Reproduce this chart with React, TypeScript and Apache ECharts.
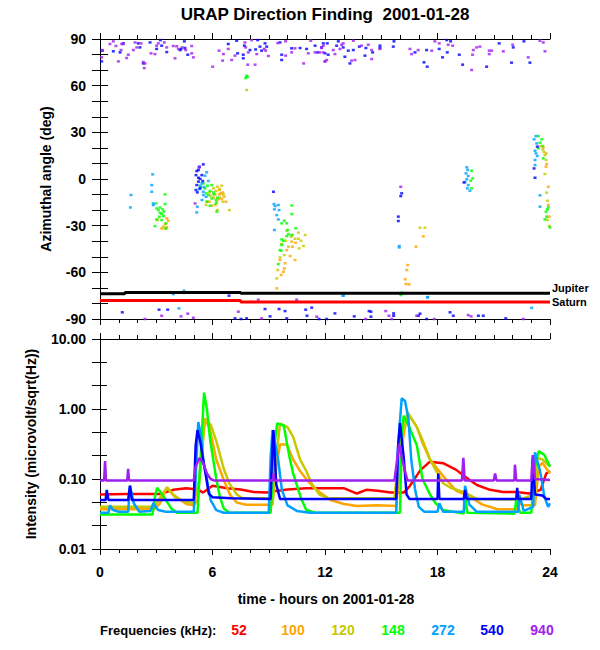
import React, { useEffect, useRef } from "react";
import * as echarts from "echarts";

const FONT = '"Liberation Sans", Arial, Helvetica, sans-serif';
const BOLD = "bold";

// ---------- frequencies ----------
const freqLabels = ["52", "100", "120", "148", "272", "540", "940"];
const freqColors = ["#ff0000", "#ffa500", "#c8c800", "#00ff00", "#00a0ff", "#0000ff", "#a020f0"];
const hourTicks = [0, 6, 12, 18, 24];

// ---------- top panel: direction finding points [hour, azimuth deg] ----------
const dir940: [number, number][] = [
  [0.12, 82.9], [0.09, 78.2], [0.53, 86.8], [0.71, 88.5], [0.85, 85.5], [1.16, 86.8], [1.24, 86.8], [1.12, 82.9],
  [1.51, 79.9], [1.87, 87.8], [1.96, 84.6], [2.19, 87.2], [1.78, 82.9], [1.42, 77.8], [0.98, 75.6], [2.31, 75.2],
  [2.4, 74.3], [2.36, 71.3], [2.72, 80.8], [2.93, 80.3], [3.02, 85.7], [3.11, 87.2], [3.43, 87.8], [3.56, 84.6],
  [3.91, 85.5], [4.09, 85.3], [4.18, 83.6], [4.39, 84.6], [4.57, 82.9], [4.89, 85.5], [4.89, 80.8], [4.98, 78.2],
  [4.0, 77.6], [6.01, 72.2], [6.35, 82.5], [6.58, 80.3], [6.54, 76.1], [6.84, 83.6], [7.02, 76.5], [7.2, 79.3],
  [7.73, 87.8], [7.77, 84.6], [7.91, 81.4], [8.09, 89.3], [8.36, 80.3], [8.27, 73.5], [7.88, 73.5], [8.98, 79.1],
  [9.48, 87.4], [9.9, 88.5], [9.9, 79.3], [10.22, 81.4], [10.4, 84.0], [10.86, 74.3], [11.24, 88.9], [11.47, 81.4],
  [11.73, 81.4], [11.91, 85.7], [12.0, 75.6], [11.11, 80.8], [8.76, 83.6], [8.84, 82.5],
  [11.82, 84.2], [11.91, 81.4], [12.0, 75.6], [12.09, 76.5], [12.44, 82.9], [12.53, 80.3], [12.8, 83.6], [12.89, 86.3],
  [12.97, 87.2], [13.51, 88.9], [13.42, 76.1], [13.6, 76.5], [13.95, 85.7], [14.31, 86.3], [14.49, 82.9], [14.49, 77.1],
  [14.93, 83.6], [16.53, 83.6], [16.62, 80.3], [16.97, 82.9], [17.69, 82.5], [17.86, 88.5], [18.09, 87.2], [18.57, 86.3],
  [18.81, 85.7], [19.87, 79.9], [19.91, 82.9], [20.09, 84.6], [20.26, 85.1], [20.76, 82.5], [20.89, 82.5], [20.76, 80.3],
  [21.51, 82.1], [22.01, 86.3], [22.84, 78.2], [23.46, 88.9], [23.64, 87.8], [23.73, 82.1], [19.82, 70.1],
  [5.28, 7.3], [5.07, -15.7], [16.04, -5.0],
  [2.4, -90.0], [3.29, -87.9], [4.32, -88.3], [4.68, -86.6], [4.98, -89.2], [7.38, -85.3], [8.44, -77.6], [8.62, -89.6],
  [10.49, -77.6], [11.56, -88.5], [14.17, -90.0], [15.24, -84.9], [15.41, -87.9], [15.56, -90.0], [16.89, -87.9],
  [17.83, -90.0], [19.64, -87.5], [19.79, -88.3], [22.58, -90.0],
];

const dir540: [number, number][] = [
  [0.12, 82.5], [0.09, 75.6], [0.71, 82.1], [1.07, 81.4], [1.24, 87.2], [2.04, 87.2], [2.13, 84.6], [2.31, 74.3],
  [2.67, 87.8], [3.02, 83.6], [3.22, 89.3], [3.29, 85.7], [3.56, 81.6], [4.27, 82.9], [4.32, 83.6], [4.53, 84.2],
  [4.5, 88.5], [4.68, 79.9], [6.84, 86.8], [7.29, 88.9], [7.34, 80.8], [7.64, 79.9], [7.64, 77.6], [7.7, 85.7],
  [8.0, 82.9], [8.41, 89.3], [8.3, 83.3], [8.53, 85.1], [8.62, 82.5], [8.8, 87.2], [8.89, 85.1], [9.6, 87.8],
  [9.69, 79.9], [9.69, 76.5], [10.22, 84.0], [10.67, 84.2], [11.02, 83.6], [11.47, 85.7], [11.61, 81.4], [11.82, 84.6],
  [11.91, 87.2], [12.12, 87.2], [12.0, 80.8], [12.17, 79.9], [12.62, 85.7], [12.71, 88.5], [12.97, 84.6], [13.06, 78.6],
  [13.24, 82.5], [13.33, 74.3], [13.51, 82.9], [13.83, 85.1], [14.13, 79.3], [14.18, 84.2], [14.54, 81.4], [14.93, 85.7],
  [14.93, 84.2], [15.64, 85.1], [15.68, 88.5], [16.8, 81.4], [17.42, 82.9], [17.28, 75.0], [17.45, 72.2], [18.09, 83.6],
  [18.27, 78.2], [18.49, 89.3], [18.52, 81.4], [18.7, 88.5], [19.16, 79.9], [19.34, 73.5], [20.62, 72.2], [21.29, 87.2],
  [21.95, 74.8], [22.04, 84.6], [22.61, 88.5], [22.93, 74.8],
  [5.51, 9.4], [5.3, 7.9], [5.16, 5.1], [5.25, 5.8], [5.12, 2.5], [5.25, 0.8], [5.34, 0.0], [5.25, -1.7], [5.16, -3.9],
  [5.12, -7.1], [5.19, -8.6], [5.34, -6.0], [5.48, -1.3], [5.43, 2.5], [9.25, -8.2],
  [16.09, -9.2], [16.04, -11.0], [15.91, -24.2], [15.91, -27.0], [19.41, -2.2], [23.15, 6.8], [23.2, 0.8], [23.32, 20.8],
  [1.19, -85.7], [3.15, -84.0], [3.61, -84.0], [6.88, -75.0], [7.2, -89.6], [7.52, -90.0], [7.82, -89.6], [8.8, -83.6],
  [9.07, -88.3], [9.55, -83.6], [9.87, -84.9], [9.96, -89.6], [10.97, -84.0], [11.04, -87.9], [11.29, -82.7], [11.68, -90.0],
  [12.09, -90.0], [12.53, -86.4], [13.56, -88.3], [14.35, -84.9], [14.45, -88.5], [14.45, -85.3], [15.66, -86.4],
  [15.66, -87.9], [17.07, -86.6], [16.98, -87.9], [17.42, -90.0], [18.67, -85.7], [18.84, -87.9], [20.18, -87.9],
  [20.44, -87.9], [21.64, -89.6],
];

const dir272: [number, number][] = [
  [1.65, -10.3], [1.62, -18.3], [2.81, 3.0], [2.76, -3.9], [2.76, -8.2], [2.84, -15.7], [2.84, -16.8],
  [5.69, 4.3], [5.6, 2.1], [5.43, -2.8], [5.34, -4.3], [5.3, -6.5], [5.55, -5.2], [5.51, -10.3], [5.66, -11.4],
  [5.44, -13.5], [5.19, -17.8], [5.16, -21.5], [5.78, -1.3], [5.51, -8.2],
  [9.28, -16.1], [9.51, -16.7], [9.34, -17.4], [9.3, -19.5], [9.55, -20.0], [9.43, -23.2], [9.51, -26.0], [9.3, -32.8],
  [15.96, -43.1], [15.96, -44.0], [17.46, -76.1],
  [19.56, 7.5], [19.61, 5.8], [19.52, 3.6], [19.64, 1.9], [19.56, -0.2], [19.47, -2.0], [19.64, -3.9], [19.59, -6.0], [19.73, -7.5],
  [23.25, 27.6], [23.15, 25.5], [23.29, 22.9], [23.2, 18.2], [23.25, 16.5], [23.32, 14.8], [23.2, 12.2], [23.2, 9.0],
  [23.47, -10.5], [23.47, -17.8],
  [4.21, -83.2], [12.98, -75.0], [17.48, -75.9], [23.02, -82.8], [3.91, -74.0], [4.48, -71.8], [12.96, -75.0],
];

const dir148: [number, number][] = [
  [2.99, -15.7], [3.47, -16.1], [3.47, -9.9], [3.02, -18.9], [3.11, -20.0], [3.2, -21.7], [3.29, -22.5], [3.41, -21.0],
  [3.38, -23.8], [3.16, -24.3], [3.02, -26.0], [2.93, -30.3], [3.29, -26.4], [3.52, -28.5], [3.2, -18.3], [3.34, -19.5], [3.52, -31.8],
  [5.51, -2.8], [5.37, -5.0], [5.6, -6.0], [5.73, -4.3], [5.96, -3.9], [5.87, -7.7], [5.66, -9.2], [5.78, -10.3],
  [6.05, -8.6], [5.96, -12.5], [6.19, -13.5], [6.26, -12.0], [5.69, -14.6], [5.87, -17.2], [6.19, -15.7], [6.23, -21.0], [6.08, -9.9],
  [7.82, 66.4], [7.77, 64.9], [7.86, 65.6],
  [10.23, -17.0], [10.23, -22.5], [9.96, -28.5], [9.69, -28.5], [9.83, -26.8], [10.44, -31.7], [10.01, -32.8], [10.05, -35.4],
  [10.23, -36.0], [9.96, -36.7], [9.69, -38.8], [9.78, -39.7], [9.69, -42.4], [9.66, -46.1], [9.51, -54.7], [9.6, -45.7],
  [16.09, -73.1], [16.05, -74.6],
  [19.82, 5.3], [19.88, 0.4], [19.77, -1.1], [19.82, -6.0],
  [23.38, 27.6], [23.56, 25.5], [23.47, 23.3], [23.61, 21.2], [23.38, 19.7], [23.64, 13.3], [23.91, -18.2], [23.79, -21.0],
  [23.82, -24.2], [23.73, -26.0], [24.0, -31.1], [23.86, -19.5],
];

const dir120: [number, number][] = [
  [3.06, -26.4], [3.38, -30.7],
  [5.83, -8.6], [6.05, -6.0], [6.26, -5.0], [6.49, -4.3], [6.37, -7.1], [6.58, -9.9], [6.55, -14.6], [6.9, -20.0],
  [6.26, -20.0], [5.73, -14.6], [5.9, -10.7], [6.4, -12.0], [6.14, -16.7], [5.66, -16.7], [7.82, 57.2],
  [9.96, -33.2], [10.58, -34.5], [10.94, -36.0], [10.4, -38.4], [10.58, -38.4], [10.72, -39.7], [9.91, -39.7], [9.69, -41.8],
  [10.85, -43.1], [10.62, -44.6], [10.05, -43.5], [9.83, -48.9], [9.6, -50.4], [9.48, -58.5], [9.43, -63.9], [10.19, -37.1], [10.26, -36.0],
  [17.07, -31.3], [17.33, -31.3],
  [23.47, 21.2], [23.61, 19.0], [23.68, 17.5], [23.73, 15.4], [23.79, 12.2], [23.73, 3.2], [23.82, -8.8], [23.86, -14.0],
  [23.86, -26.4], [23.96, -30.2],
];

const dir100: [number, number][] = [
  [3.56, -25.3], [3.64, -26.8], [3.47, -29.0], [3.29, -31.8], [3.47, -32.0], [3.56, -31.1],
  [6.19, -7.7], [6.37, -6.5], [6.44, -9.2], [6.55, -8.6], [6.62, -11.4], [6.31, -12.9], [6.49, -12.9], [6.72, -14.6],
  [6.37, -9.9], [6.05, -12.0], [5.83, -14.6], [5.96, -17.2], [6.23, -14.6], [6.14, -9.9],
  [10.23, -40.3], [10.44, -41.0], [10.26, -43.5], [9.96, -45.7], [10.14, -49.5], [10.4, -52.1], [9.6, -52.1], [9.87, -54.2],
  [9.78, -59.6], [9.66, -61.7], [9.43, -70.3], [9.83, -57.5],
  [17.24, -36.9], [16.85, -43.5], [16.41, -55.3], [16.36, -58.5], [16.28, -64.5], [16.32, -67.5], [16.48, -67.7],
  [23.64, 20.3], [23.79, 16.5], [23.82, 9.6], [23.79, 7.9], [23.91, -5.0], [23.91, -16.7], [23.96, -24.2],
];

const jupiterHours = [0, 1.33, 1.33, 7.5, 7.5, 24];
const jupiterAngles = [-73.7, -73.7, -72.9, -72.9, -73.5, -73.5];
const saturnHours = [0, 7.5, 7.5, 24];
const saturnAngles = [-78.1, -78.1, -79.0, -79.0];

// ---------- bottom panel: intensity [hour, microvolt/sqrt(Hz)] ----------
const int52: [number, number][] = [
  [0, 0.06], [1.4, 0.061], [3.2, 0.061], [3.9, 0.07], [4.6, 0.074], [5.2, 0.071], [5.5, 0.064], [6.0, 0.08],
  [6.8, 0.074], [7.5, 0.071], [8.2, 0.065], [8.9, 0.064], [9.25, 0.067], [10.0, 0.071], [11.0, 0.074], [12.0, 0.074],
  [13.0, 0.074], [13.7, 0.062], [14.2, 0.07], [14.8, 0.068], [15.5, 0.064], [16.2, 0.064], [16.5, 0.078], [17.1, 0.135],
  [17.6, 0.177], [18.3, 0.168], [19.0, 0.135], [19.6, 0.102], [20.1, 0.082], [20.8, 0.07], [21.5, 0.065], [22.2, 0.065],
  [22.9, 0.062], [23.5, 0.07], [23.8, 0.12], [24, 0.13],
];
const int100: [number, number][] = [
  [0, 0.037], [2.9, 0.037], [3.2, 0.045], [3.56, 0.076], [3.9, 0.06], [4.3, 0.05], [4.6, 0.044], [5.0, 0.042],
  [5.2, 0.05], [5.4, 0.2], [5.6, 0.74], [5.87, 0.5], [6.2, 0.19], [6.58, 0.1], [6.93, 0.06], [7.3, 0.046], [7.8, 0.043],
  [9.2, 0.043], [9.4, 0.15], [9.6, 0.31], [9.96, 0.31], [10.3, 0.19], [10.67, 0.13], [11.0, 0.1], [11.4, 0.075],
  [11.7, 0.065], [12.3, 0.05], [13.0, 0.044], [13.7, 0.041], [14.8, 0.042], [15.8, 0.041], [16.1, 0.3], [16.4, 0.88],
  [16.9, 0.55], [17.2, 0.33], [17.6, 0.19], [18.3, 0.11], [19.0, 0.068], [19.7, 0.057], [20.4, 0.043], [21.2, 0.037],
  [22.2, 0.037], [22.4, 0.045], [22.6, 0.042], [23.2, 0.042], [23.4, 0.15], [23.6, 0.17], [23.9, 0.13], [24, 0.12],
];
const int120: [number, number][] = [
  [0, 0.04], [2.9, 0.04], [3.3, 0.06], [3.6, 0.075], [4.0, 0.055], [4.5, 0.048], [5.0, 0.045], [5.3, 0.1], [5.6, 0.7],
  [5.9, 0.6], [6.2, 0.35], [6.6, 0.14], [6.9, 0.086], [7.3, 0.06], [7.6, 0.053], [9.2, 0.053], [9.4, 0.2], [9.6, 0.62],
  [10.0, 0.55], [10.3, 0.4], [10.67, 0.19], [11.0, 0.13], [11.3, 0.085], [11.7, 0.06], [12.2, 0.053], [15.7, 0.053],
  [16.0, 0.3], [16.4, 0.9], [16.9, 0.55], [17.2, 0.36], [17.6, 0.19], [17.9, 0.135], [18.3, 0.087], [18.7, 0.075],
  [19.4, 0.065], [20.1, 0.052], [22.2, 0.051], [22.6, 0.053], [23.2, 0.06], [23.3, 0.2], [23.6, 0.19], [24, 0.15],
];
const int148: [number, number][] = [
  [0, 0.031], [2.8, 0.031], [2.95, 0.06], [3.05, 0.075], [3.4, 0.056], [3.8, 0.038], [4.1, 0.033], [5.2, 0.033],
  [5.4, 0.3], [5.55, 1.71], [5.7, 1.0], [5.87, 0.37], [6.04, 0.19], [6.2, 0.1], [6.4, 0.055], [6.6, 0.038], [6.9, 0.033],
  [9.1, 0.033], [9.3, 0.3], [9.45, 0.62], [9.8, 0.58], [10.1, 0.21], [10.3, 0.12], [10.7, 0.055], [11.0, 0.036],
  [11.5, 0.033], [16.0, 0.033], [16.1, 0.5], [16.2, 0.8], [16.5, 0.55], [16.9, 0.3], [17.2, 0.1], [17.6, 0.06],
  [17.9, 0.045], [18.3, 0.036], [19.4, 0.032], [19.5, 0.05], [19.6, 0.033], [22.1, 0.032], [22.2, 0.05], [22.4, 0.033],
  [23.0, 0.033], [23.2, 0.15], [23.4, 0.25], [23.7, 0.22], [23.9, 0.17], [24, 0.15],
];
const int272: [number, number][] = [
  [0, 0.033], [0.45, 0.033], [0.53, 0.042], [0.7, 0.036], [1.0, 0.034], [1.5, 0.034], [1.6, 0.08], [1.8, 0.045],
  [2.1, 0.034], [2.7, 0.035], [2.84, 0.045], [3.1, 0.036], [3.5, 0.034], [5.0, 0.034], [5.1, 0.1], [5.24, 0.65],
  [5.4, 0.4], [5.5, 0.19], [5.7, 0.1], [5.9, 0.05], [6.2, 0.036], [6.6, 0.033], [9.0, 0.033], [9.1, 0.2], [9.2, 0.5],
  [9.5, 0.19], [9.7, 0.07], [10.0, 0.042], [10.5, 0.035], [11.2, 0.033], [15.8, 0.033], [15.9, 0.3], [16.09, 1.42],
  [16.27, 1.3], [16.45, 0.72], [16.6, 0.19], [16.8, 0.072], [17.0, 0.04], [17.3, 0.034], [18.0, 0.034], [18.1, 0.045],
  [18.3, 0.034], [19.4, 0.034], [19.47, 0.08], [19.7, 0.043], [20.1, 0.034], [22.3, 0.034], [22.36, 0.06], [22.6, 0.035],
  [23.1, 0.04], [23.2, 0.24], [23.47, 0.13], [23.7, 0.056], [23.9, 0.04], [24, 0.045],
];
const int540: [number, number][] = [
  [0, 0.05], [0.3, 0.05], [0.36, 0.07], [0.45, 0.05], [1.5, 0.05], [1.6, 0.08], [1.7, 0.05], [5.0, 0.05], [5.1, 0.3],
  [5.2, 0.5], [5.35, 0.34], [5.5, 0.19], [5.65, 0.11], [5.8, 0.062], [6.0, 0.055], [7.0, 0.053], [9.1, 0.052],
  [9.2, 0.3], [9.25, 0.5], [9.4, 0.084], [9.6, 0.052], [15.8, 0.052], [15.9, 0.3], [16.0, 0.63], [16.2, 0.2],
  [16.35, 0.06], [16.5, 0.052], [18.0, 0.052], [18.04, 0.12], [18.1, 0.052], [19.4, 0.052], [19.47, 0.07],
  [19.55, 0.052], [22.2, 0.052], [22.25, 0.075], [22.3, 0.052], [23.0, 0.052], [23.08, 0.2], [23.2, 0.06],
  [23.6, 0.058], [23.8, 0.052], [24, 0.052],
];
const int940: [number, number][] = [
  [0, 0.095], [0.22, 0.095], [0.27, 0.18], [0.32, 0.095], [1.45, 0.095], [1.5, 0.14], [1.55, 0.095], [5.0, 0.095],
  [5.1, 0.15], [5.3, 0.2], [5.5, 0.17], [5.7, 0.12], [5.9, 0.1], [6.1, 0.095], [9.2, 0.095], [9.25, 0.12], [9.3, 0.095],
  [15.7, 0.095], [15.8, 0.15], [15.95, 0.32], [16.1, 0.2], [16.3, 0.12], [16.4, 0.095], [19.3, 0.095], [19.38, 0.2],
  [19.45, 0.095], [21.0, 0.095], [21.07, 0.12], [21.15, 0.095], [22.1, 0.095], [22.13, 0.16], [22.2, 0.095],
  [23.0, 0.095], [23.08, 0.22], [23.2, 0.1], [24, 0.097],
];

const dirSeries = [dir100, dir120, dir148, dir272, dir540, dir940];
const dirColorIdx = [1, 2, 3, 4, 5, 6];
const intSeries = [int52, int100, int120, int148, int272, int540, int940];

const black = "#000000";

function xAxisDef(grid: number, position: "top" | "bottom", labels: boolean) {
  return {
    type: "value",
    gridIndex: grid,
    position,
    min: 0,
    max: 24,
    interval: 6,
    axisLine: { show: true, onZero: false, lineStyle: { color: black, width: 1 } },
    axisTick: { show: true, length: 6, lineStyle: { color: black } },
    minorTick: { show: true, splitNumber: 6, length: 4, lineStyle: { color: black } },
    splitLine: { show: false },
    axisLabel: {
      show: labels,
      color: black,
      fontSize: 14,
      fontWeight: BOLD,
      fontFamily: FONT,
      margin: 16,
      formatter: (v: number) => (hourTicks.includes(v) ? String(v) : ""),
    },
  };
}

const LOGBASE = Math.pow(10, 1 / 3);

export default function App() {
  const ref = useRef<HTMLDivElement>(null);
  useEffect(() => {
    if (!ref.current) return;
    const chart = echarts.init(ref.current, undefined, { renderer: "svg" });

    const series: any[] = [];
    dirSeries.forEach((d, i) => {
      series.push({
        type: "scatter",
        xAxisIndex: 0,
        yAxisIndex: 0,
        data: d,
        symbol: "rect",
        symbolSize: [3, 2.5],
        itemStyle: { color: freqColors[dirColorIdx[i]] },
        silent: true,
        z: 3,
      });
    });
    series.push({
      type: "line",
      xAxisIndex: 0,
      yAxisIndex: 0,
      data: jupiterHours.map((h, i) => [h, jupiterAngles[i]]),
      showSymbol: false,
      symbol: "none",
      lineStyle: { color: black, width: 3 },
      z: 4,
    });
    series.push({
      type: "line",
      xAxisIndex: 0,
      yAxisIndex: 0,
      data: saturnHours.map((h, i) => [h, saturnAngles[i]]),
      showSymbol: false,
      symbol: "none",
      lineStyle: { color: "#ff0000", width: 3 },
      z: 4,
    });
    intSeries.forEach((d, i) => {
      series.push({
        type: "line",
        xAxisIndex: 2,
        yAxisIndex: 2,
        data: d,
        showSymbol: false,
        symbol: "none",
        lineStyle: { color: freqColors[i], width: 2.5 },
        silent: true,
        z: 3,
      });
    });

    const legendX = [239, 293, 343, 393, 443, 492, 542];
    const txt = (text: string, x: number, y: number, size: number, fill: string, align: string) => ({
      type: "text",
      x,
      y,
      style: {
        text,
        fontSize: size,
        fontWeight: BOLD,
        fontFamily: FONT,
        fill,
        align,
        verticalAlign: "middle",
      },
    });
    const graphics: any[] = [
      txt("URAP Direction Finding  2001-01-28", 325, 14, 17, black, "center"),
      txt("time - hours on 2001-01-28", 326, 599, 14, black, "center"),
      txt("Frequencies (kHz):", 100, 630, 13, black, "left"),
      txt("Jupiter", 552, 288, 11, black, "left"),
      txt("Saturn", 552, 302, 11, black, "left"),
    ];
    freqLabels.forEach((f, i) => {
      graphics.push(txt(f, legendX[i], 630, 14, freqColors[i], "center"));
    });

    const logLabel = (v: number) => {
      const l = Math.log10(v);
      return Math.abs(l - Math.round(l)) < 1e-3 ? Math.pow(10, Math.round(l)).toFixed(2) : "";
    };

    chart.setOption({
      animation: false,
      backgroundColor: "#ffffff",
      grid: [
        { left: 100, top: 39, width: 450, height: 280, containLabel: false },
        { left: 100, top: 339, width: 450, height: 210, containLabel: false },
      ],
      xAxis: [
        xAxisDef(0, "bottom", false),
        xAxisDef(0, "top", false),
        xAxisDef(1, "bottom", true),
        xAxisDef(1, "top", false),
      ],
      yAxis: [
        {
          type: "value",
          gridIndex: 0,
          position: "left",
          min: -90,
          max: 90,
          interval: 30,
          name: "Azimuthal angle (deg)",
          nameLocation: "middle",
          nameGap: 47,
          nameRotate: 90,
          nameTextStyle: { color: black, fontSize: 14, fontWeight: BOLD, fontFamily: FONT },
          axisLine: { show: true, lineStyle: { color: black } },
          axisTick: { show: true, length: 8, lineStyle: { color: black } },
          minorTick: { show: true, splitNumber: 3, length: 8, lineStyle: { color: black } },
          splitLine: { show: false },
          axisLabel: { color: black, fontSize: 14, fontWeight: BOLD, fontFamily: FONT, margin: 14 },
        },
        {
          type: "value",
          gridIndex: 0,
          position: "right",
          min: -90,
          max: 90,
          interval: 30,
          axisLine: { show: true, lineStyle: { color: black } },
          axisTick: { show: true, length: 8, lineStyle: { color: black } },
          minorTick: { show: true, splitNumber: 3, length: 8, lineStyle: { color: black } },
          splitLine: { show: false },
          axisLabel: { show: false },
        },
        {
          type: "log",
          logBase: LOGBASE,
          gridIndex: 1,
          position: "left",
          min: 0.01,
          max: 10,
          splitNumber: 9,
          name: "Intensity (microvolt/sqrt(Hz))",
          nameLocation: "middle",
          nameGap: 62,
          nameRotate: 90,
          nameTextStyle: { color: black, fontSize: 14, fontWeight: BOLD, fontFamily: FONT },
          axisLine: { show: true, lineStyle: { color: black } },
          axisTick: { show: true, length: 8, lineStyle: { color: black } },
          splitLine: { show: false },
          axisLabel: { color: black, fontSize: 14, fontWeight: BOLD, fontFamily: FONT, margin: 14, formatter: logLabel },
        },
        {
          type: "log",
          logBase: LOGBASE,
          gridIndex: 1,
          position: "right",
          min: 0.01,
          max: 10,
          splitNumber: 9,
          axisLine: { show: true, lineStyle: { color: black } },
          axisTick: { show: true, length: 7, lineStyle: { color: black } },
          splitLine: { show: false },
          axisLabel: { show: false },
        },
      ],
      graphic: graphics,
      series,
    });
    return () => chart.dispose();
  }, []);

  return (
    <div
      ref={ref}
      style={{ position: "absolute", left: 0, top: 0, width: 600, height: 650, background: "#fff" }}
    />
  );
}
